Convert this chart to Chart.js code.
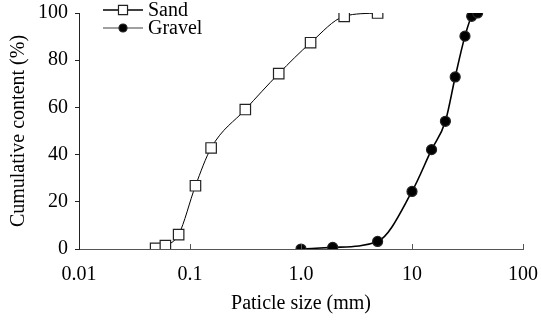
<!DOCTYPE html>
<html>
<head>
<meta charset="utf-8">
<script src="https://cdn.jsdelivr.net/npm/chart.js@4/dist/chart.umd.min.js"></script>
<style>
  html, body { margin: 0; padding: 0; background: #fff; }
  #wrap { width: 541px; height: 323px; }
</style>
</head>
<body>
<div id="wrap"><canvas id="psd" width="541" height="323"></canvas></div>
<script>
// particle size (mm) and cumulative content (%)
const sandSize = [0.049, 0.060, 0.079, 0.112, 0.155, 0.315, 0.63, 1.22, 2.45, 4.9];
const sandContent = [0.3, 1.4, 6.1, 26.8, 42.8, 59.1, 74.3, 87.4, 98.6, 100];
const gravelSize = [1.0, 1.93, 4.9, 10.0, 15.0, 20.0, 24.5, 30.0, 34.5, 39.0];
const gravelContent = [0, 0.7, 3.2, 24.4, 42.1, 54.1, 72.9, 90.2, 98.6, 100];

const xTicks = [0.01, 0.1, 1, 10, 100];
const xTickLabels = ['0.01', '0.1', '1.0', '10', '100'];
const yTicks = [0, 20, 40, 60, 80, 100];

const font = { family: "'Liberation Serif', 'Times New Roman', serif", size: 20 };

function toPoints(xs, ys) {
    return xs.map((x, i) => ({ x: x, y: ys[i] }));
}

// Excel style legend: short line with the marker in the middle
const legendColors = ['#000', '#808080'];
const legendPlugin = {
    id: 'lineLegend',
    afterDraw(chart) {
        const ctx = chart.ctx;
        const left = 103, lineLen = 40, top = 10, gap = 18;
        chart.data.datasets.forEach((ds, i) => {
            const y = top + i * gap;
            ctx.save();
            ctx.strokeStyle = legendColors[i];
            ctx.lineWidth = 1.3;
            ctx.beginPath();
            ctx.moveTo(left, y);
            ctx.lineTo(left + lineLen, y);
            ctx.stroke();
            ctx.fillStyle = ds.pointBackgroundColor;
            ctx.strokeStyle = ds.pointBorderColor;
            ctx.lineWidth = ds.pointBorderWidth;
            Chart.helpers.drawPoint(ctx, {
                pointStyle: ds.pointStyle,
                radius: ds.pointRadius - 1,
                borderWidth: ds.pointBorderWidth
            }, left + lineLen / 2, y);
            ctx.fillStyle = '#000';
            ctx.font = font.size + 'px ' + font.family;
            ctx.textBaseline = 'middle';
            ctx.fillText(ds.label, left + lineLen + 5, y + 1);
            ctx.restore();
        });
    }
};

// inward tick marks on the x axis
const xTickPlugin = {
    id: 'inTicks',
    afterDatasetsDraw(chart) {
        const sx = chart.scales.x;
        const ctx = chart.ctx;
        ctx.save();
        ctx.strokeStyle = '#555';
        ctx.lineWidth = 1;
        xTicks.slice(1).forEach(v => {
            const px = Math.round(sx.getPixelForValue(v)) + 0.5;
            ctx.beginPath();
            ctx.moveTo(px, sx.top);
            ctx.lineTo(px, sx.top - 5);
            ctx.stroke();
        });
        ctx.restore();
    }
};

function pointOpts(style, fill, radius) {
    return {
        pointStyle: style,
        pointRadius: radius,
        pointHoverRadius: radius,
        pointBackgroundColor: fill,
        pointBorderColor: '#222',
        pointBorderWidth: 1.2
    };
}

const ctx = document.getElementById('psd').getContext('2d');

new Chart(ctx, {
    type: 'line',
    data: {
        datasets: [
            Object.assign({
                label: 'Sand',
                data: toPoints(sandSize, sandContent),
                borderColor: '#000',
                borderWidth: 1,
                cubicInterpolationMode: 'monotone'
            }, pointOpts('rect', '#fff', 7.4)),
            Object.assign({
                label: 'Gravel',
                data: toPoints(gravelSize, gravelContent),
                borderColor: '#000',
                borderWidth: 1.6,
                cubicInterpolationMode: 'monotone'
            }, pointOpts('circle', '#000', 5))
        ]
    },
    options: {
        responsive: false,
        animation: false,
        layout: { padding: { top: 13, right: 18, left: 0, bottom: 0 } },
        plugins: {
            legend: { display: false },
            tooltip: { enabled: false }
        },
        scales: {
            x: {
                type: 'logarithmic',
                min: 0.01,
                max: 100,
                afterBuildTicks: s => { s.ticks = xTicks.map(v => ({ value: v })); },
                afterFit: s => { s.height = 74; s.paddingLeft = 0; s.paddingRight = 0; },
                border: { color: '#555', width: 1 },
                grid: { display: false },
                ticks: {
                    font: font,
                    color: '#000',
                    padding: 6,
                    maxRotation: 0,
                    autoSkip: false,
                    callback: (v) => xTickLabels[xTicks.indexOf(v)]
                },
                title: { display: true, text: 'Paticle size (mm)', font: font, color: '#000', padding: { top: 0, bottom: 7 } }
            },
            y: {
                min: 0,
                max: 100,
                afterBuildTicks: s => { s.ticks = yTicks.map(v => ({ value: v })); },
                afterFit: s => { s.width = 79; s.paddingTop = 0; s.paddingBottom = 0; },
                border: { color: '#222', width: 1 },
                grid: { drawOnChartArea: false, tickLength: 4, color: '#222' },
                ticks: { font: font, color: '#000', padding: 7 },
                title: { display: true, text: 'Cumulative content (%)', font: font, color: '#000', padding: { top: 7, bottom: 0 } }
            }
        }
    },
    plugins: [legendPlugin, xTickPlugin]
});
</script>
</body>
</html>
